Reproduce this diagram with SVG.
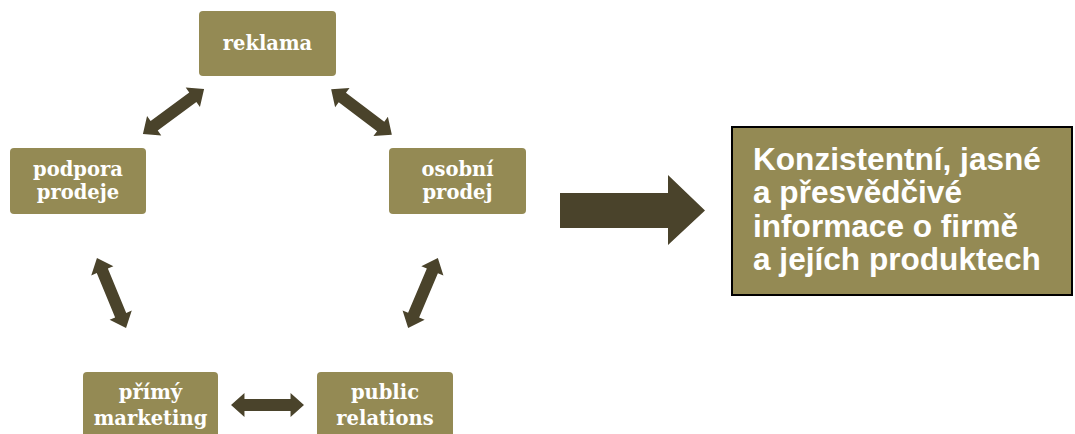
<svg xmlns="http://www.w3.org/2000/svg" width="1075" height="434" viewBox="0 0 1075 434">
<style>
.node{fill:#948a54;}
.nt{font-family:"DejaVu Serif","Liberation Serif",serif;font-weight:bold;font-size:19.5px;fill:#ffffff;text-anchor:middle;}
.arr{fill:#4a432b;}
.bt{font-family:"Liberation Sans",Arial,sans-serif;font-weight:bold;font-size:31.6px;fill:#ffffff;}
</style>
<defs>
<polygon id="dbl" points="-38,0 -24,-12 -24,-6 24,-6 24,-12 38,0 24,12 24,6 -24,6 -24,12"/>
</defs>
<rect width="1075" height="434" fill="#ffffff"/>
<g id="reklama">
<rect class="node" x="199" y="11" width="137" height="65" rx="4"/>
<text class="nt" x="267.5" y="50">reklama</text>
</g>
<g id="podpora-prodeje">
<rect class="node" x="10" y="148" width="136" height="66" rx="4"/>
<text class="nt" x="78" y="176">podpora</text>
<text class="nt" x="78" y="199">prodeje</text>
</g>
<g id="osobni-prodej">
<rect class="node" x="389" y="148" width="137" height="66" rx="4"/>
<text class="nt" x="457.5" y="176">osobní</text>
<text class="nt" x="457.5" y="199">prodej</text>
</g>
<g id="primy-marketing">
<rect class="node" x="83" y="372" width="135" height="70" rx="4"/>
<text class="nt" x="150.5" y="399">přímý</text>
<text class="nt" x="150.5" y="425">marketing</text>
</g>
<g id="public-relations">
<rect class="node" x="317" y="372" width="136" height="70" rx="4"/>
<text class="nt" x="385" y="399">public</text>
<text class="nt" x="385" y="425">relations</text>
</g>
<g id="vysledek">
<rect x="732" y="127" width="340" height="168" fill="#948a54" stroke="#000000" stroke-width="2"/>
<text class="bt" x="753" y="170">Konzistentní, jasné</text>
<text class="bt" x="753" y="203">a přesvědčivé</text>
<text class="bt" x="753" y="237">informace o firmě</text>
<text class="bt" x="753" y="270">a jejích produktech</text>
</g>
<g id="connectors">
<use href="#dbl" class="arr" transform="translate(173.5,111.5) rotate(-36.4)"/>
<use href="#dbl" class="arr" transform="translate(361.5,112) rotate(37)"/>
<use href="#dbl" class="arr" transform="translate(111.5,293) rotate(67.5)"/>
<use href="#dbl" class="arr" transform="translate(423,293) rotate(-67)"/>
<use href="#dbl" class="arr" transform="translate(267.5,405) scale(0.96,1)"/>
<polygon class="arr" points="560,193 668,193 668,175 705,210.5 668,245 668,228 560,228"/>
</g>
</svg>
